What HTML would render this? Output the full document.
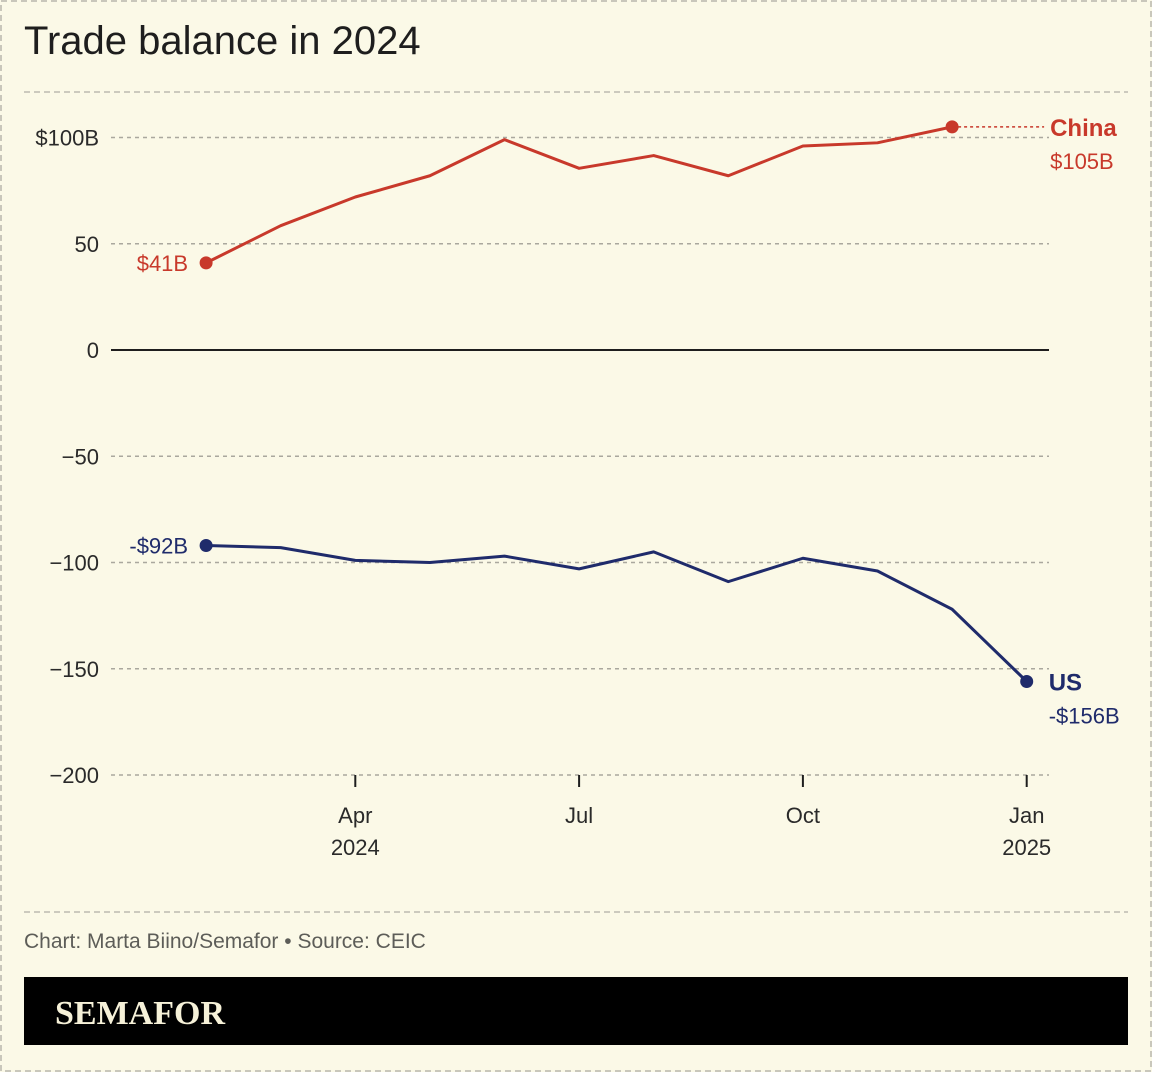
<!DOCTYPE html>
<html><head><meta charset="utf-8"><style>
html,body{margin:0;padding:0;background:#fbf9e7;}
body{width:1152px;height:1072px;overflow:hidden;font-family:"Liberation Sans",sans-serif;}
</style></head><body>
<svg id="chart" width="1152" height="1072" xmlns="http://www.w3.org/2000/svg" style="display:block">
<rect x="1" y="1" width="1150" height="1070" fill="#fbf9e7" stroke="#c9c7bb" stroke-width="2" stroke-dasharray="6,4"/>
<text x="24" y="54" font-size="40" fill="#1e1e1e">Trade balance in 2024</text>
<line x1="24" y1="92" x2="1128" y2="92" stroke="#bdbbb0" stroke-width="1.5" stroke-dasharray="6,4"/>
<g id="grid"></g><g id="xaxis"></g><g id="series"></g>
<line x1="24" y1="912" x2="1128" y2="912" stroke="#bdbbb0" stroke-width="1.5" stroke-dasharray="6,4"/>
<text x="24" y="948" font-size="21" fill="#5d5d58">Chart: Marta Biino/Semafor • Source: CEIC</text>
<rect x="24" y="977" width="1104" height="68" fill="#000"/>
<text x="55" y="1024" font-size="34" font-weight="bold" font-family="Liberation Serif,serif" fill="#f6f1d8">SEMAFOR</text>
</svg>
<script>
const yTicks=[100,50,0,-50,-100,-150,-200];
const yTickLabels=["$100B","50","0","−50","−100","−150","−200"];
const xTickMonths=[3,6,9,12];
const xTickLabels=[["Apr","2024"],["Jul",""],["Oct",""],["Jan","2025"]];
const chinaMonths=[1,2,3,4,5,6,7,8,9,10,11];
const chinaValues=[41,58.5,72,82,99,85.5,91.5,82,96,97.5,105];
const usMonths=[1,2,3,4,5,6,7,8,9,10,11,12];
const usValues=[-92,-93,-99,-100,-97,-103,-95,-109,-98,-104,-122,-156];
const X=m=>131.5+74.6*m;
const Y=v=>350-2.125*v;
const NS="http://www.w3.org/2000/svg";
function mk(tag,attrs,parent,text){const e=document.createElementNS(NS,tag);for(const k in attrs)e.setAttribute(k,attrs[k]);if(text!==undefined)e.textContent=text;document.getElementById(parent).appendChild(e);return e;}
yTicks.forEach((v,i)=>{
 const l=mk('line',{x1:111,x2:1049,y1:Y(v),y2:Y(v),stroke:v===0?'#1e1e1e':'#aaa89e','stroke-width':v===0?2:1.5,'stroke-dasharray':v===0?'none':'4,4'},'grid');
 
 
 const t=mk('text',{x:99,y:Y(v)+8,'text-anchor':'end','font-size':22,fill:'#2a2a2a'},'grid',yTickLabels[i]);
 
 
});
xTickMonths.forEach((m,i)=>{
 const l=mk('line',{x1:X(m),x2:X(m),y1:775,y2:787,stroke:'#1e1e1e','stroke-width':2},'xaxis');
 
 
 xTickLabels[i].forEach((s,j)=>{if(!s)return;
  const t=mk('text',{x:X(m),y:823+j*32,'text-anchor':'middle','font-size':22,fill:'#2a2a2a'},'xaxis',s);
  
  
 });
});
function series(ms,vs,color,name,startLbl,endLbl,endDx){
 const p=mk('polyline',{points:ms.map((m,i)=>X(m)+','+Y(vs[i])).join(' '),fill:'none',stroke:color,'stroke-width':3,'stroke-linejoin':'round'},'series');
 
 
 const n=ms.length-1;
 [0,n].forEach(i=>{const c=mk('circle',{cx:X(ms[i]),cy:Y(vs[i]),r:6.5,fill:color},'series');
  
  });
 const s=mk('text',{x:X(ms[0])-18,y:Y(vs[0])+8,'text-anchor':'end','font-size':22,fill:color},'series',startLbl);
 
 
 if(endDx){const d=mk('line',{x1:X(ms[n]),x2:X(ms[n])+endDx-6,y1:Y(vs[n]),y2:Y(vs[n]),stroke:color,'stroke-width':1.5,'stroke-dasharray':'3,3'},'series');
  
  }
 const lx=X(ms[n])+(endDx||22);
 const a=mk('text',{x:lx,y:Y(vs[n])+9,'font-size':24,'font-weight':'bold',fill:color},'series',name==='china'?'China':'US');
 
 
 const b=mk('text',{x:lx,y:Y(vs[n])+42,'font-size':22,fill:color},'series',endLbl);
 
 
}
series(chinaMonths,chinaValues,'#c8392b','china','$41B','$105B',98);
series(usMonths,usValues,'#1f2b6b','us','-$92B','-$156B',0);
</script>
</body></html>
